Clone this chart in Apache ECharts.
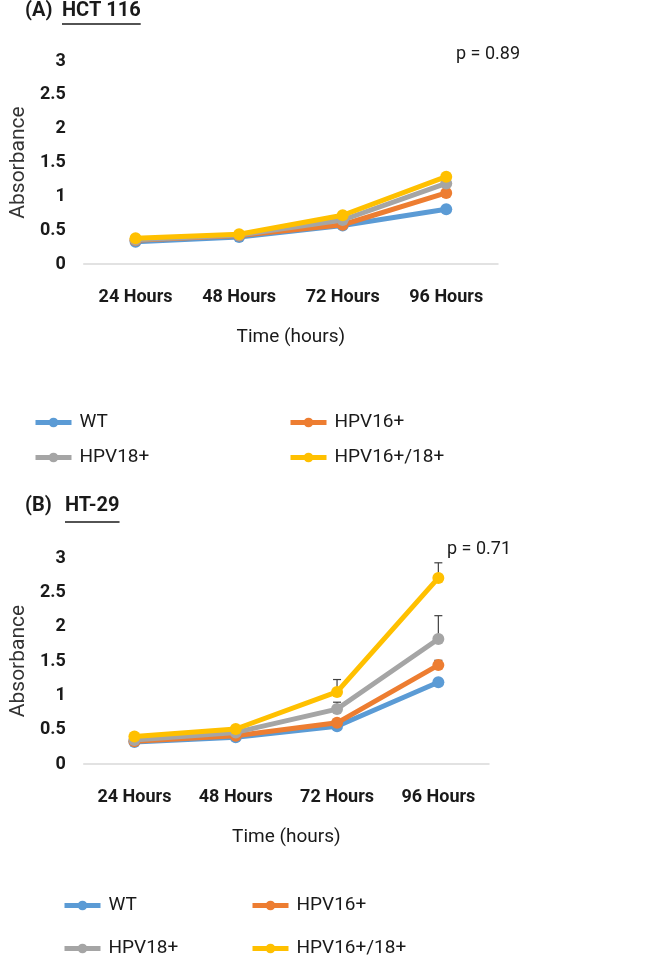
<!DOCTYPE html>
<html>
<head>
<meta charset="utf-8">
<script src="https://cdn.jsdelivr.net/npm/echarts@6/dist/echarts.min.js"></script>
<style>
html,body{margin:0;padding:0;background:#fff;}
#chart{width:669px;height:960px;}
</style>
</head>
<body>
<div id="chart"></div>
<script>
// ---- data ----
var categories = ['24 Hours', '48 Hours', '72 Hours', '96 Hours'];
var seriesNames = ['WT', 'HPV16+', 'HPV18+', 'HPV16+/18+'];
var yTicks = [0, 0.5, 1, 1.5, 2, 2.5, 3];

// Panel A: HCT 116
var hctWT = [0.33, 0.40, 0.57, 0.81];
var hctHPV16 = [0.35, 0.42, 0.58, 1.05];
var hctHPV18 = [0.36, 0.43, 0.65, 1.19];
var hctHPV1618 = [0.38, 0.44, 0.72, 1.29];

// Panel B: HT-29
var htWT = [0.32, 0.39, 0.55, 1.19];
var htHPV16 = [0.33, 0.41, 0.60, 1.44];
var htHPV18 = [0.35, 0.46, 0.80, 1.82];
var htHPV1618 = [0.40, 0.51, 1.05, 2.71];
// upper error (Panel B)
var htErrWT = [0, 0, 0.02, 0.04];
var htErrHPV16 = [0, 0, 0.02, 0.07];
var htErrHPV18 = [0, 0, 0.10, 0.34];
var htErrHPV1618 = [0, 0, 0.18, 0.22];

var pA = 'p = 0.89';
var pB = 'p = 0.71';
var titleA = ['(A)', 'HCT 116'];
var titleB = ['(B)', 'HT-29'];

// ---- styling ----
var colors = ['#5B9BD5', '#ED7D31', '#A5A5A5', '#FFC000'];
var FONT = 'Roboto, "Noto Sans", sans-serif';
var TXT = '#1a1a1a';

function textWidth(str, font) {
  var c = document.createElement('canvas').getContext('2d');
  c.font = font;
  return c.measureText(str).width;
}

var chart = echarts.init(document.getElementById('chart'));

var grids = [
  {left: 80, width: 418, top: 61, height: 203},
  {left: 73, width: 416, top: 558, height: 206}
];

function xAxisFor(i) {
  return {
    type: 'category', gridIndex: i, data: categories, boundaryGap: true,
    axisLine: {show: true, lineStyle: {color: '#d9d9d9', width: 1.5}},
    axisTick: {show: false},
    axisLabel: {fontFamily: FONT, fontSize: 18, fontWeight: 'bold', color: TXT, margin: 24},
    name: 'Time (hours)', nameLocation: 'middle', nameGap: 64,
    nameTextStyle: {fontFamily: FONT, fontSize: 19, color: TXT}
  };
}
function yAxisFor(i) {
  return {
    type: 'value', gridIndex: i, min: yTicks[0], max: yTicks[yTicks.length - 1], interval: 0.5,
    axisLine: {show: false}, axisTick: {show: false}, splitLine: {show: false},
    axisLabel: {fontFamily: FONT, fontSize: 18, fontWeight: 'bold', color: TXT, margin: 18},
    name: 'Absorbance', nameLocation: 'middle', nameGap: 52, nameRotate: 90,
    nameTextStyle: {fontFamily: FONT, fontSize: 21, color: '#333'}
  };
}

function lineSeries(name, data, gi, ci) {
  return {
    type: 'line', name: name, data: data, xAxisIndex: gi, yAxisIndex: gi,
    symbol: 'circle', symbolSize: 12, lineStyle: {width: 5, color: colors[ci]},
    itemStyle: {color: colors[ci]}, color: colors[ci], z: 2 + ci, animation: false
  };
}

function errSeries(vals, errs, gi) {
  var d = [];
  for (var k = 0; k < vals.length; k++) {
    if (errs[k] > 0) d.push([k, vals[k], vals[k] + errs[k]]);
  }
  return {
    type: 'custom', xAxisIndex: gi, yAxisIndex: gi, data: d, z: 1, animation: false,
    renderItem: function (params, api) {
      var p0 = api.coord([api.value(0), api.value(1)]);
      var p1 = api.coord([api.value(0), api.value(2)]);
      var st = {stroke: '#404040', lineWidth: 1.2};
      return {type: 'group', children: [
        {type: 'line', shape: {x1: p0[0], y1: p0[1], x2: p1[0], y2: p1[1]}, style: st},
        {type: 'line', shape: {x1: p1[0] - 4, y1: p1[1], x2: p1[0] + 4, y2: p1[1]}, style: st}
      ]};
    }
  };
}

var legendBase = {
  orient: 'horizontal', itemWidth: 36, itemHeight: 12,
  lineStyle: {width: 5},
  textStyle: {fontFamily: FONT, fontSize: 19, color: TXT, padding: [0, 0, 0, 3]},
  selectedMode: false
};
function leg(name, left, top) {
  return Object.assign({}, legendBase, {data: [name], left: left, top: top});
}

var tFont = 'bold 20px ' + FONT;
var wA = textWidth(titleA[1], tFont);
var wB = textWidth(titleB[1], tFont);

var option = {
  backgroundColor: '#fff',
  animation: false,
  grid: grids,
  xAxis: [xAxisFor(0), xAxisFor(1)],
  yAxis: [yAxisFor(0), yAxisFor(1)],
  legend: [
    leg('WT', 28, 408), leg('HPV16+', 283, 408),
    leg('HPV18+', 28, 443), leg('HPV16+/18+', 283, 443),
    leg('WT', 57, 891), leg('HPV16+', 245, 891),
    leg('HPV18+', 57, 934), leg('HPV16+/18+', 245, 934)
  ],
  series: [
    errSeries(htWT, htErrWT, 1),
    errSeries(htHPV16, htErrHPV16, 1),
    errSeries(htHPV18, htErrHPV18, 1),
    errSeries(htHPV1618, htErrHPV1618, 1),
    lineSeries(seriesNames[0], hctWT, 0, 0),
    lineSeries(seriesNames[1], hctHPV16, 0, 1),
    lineSeries(seriesNames[2], hctHPV18, 0, 2),
    lineSeries(seriesNames[3], hctHPV1618, 0, 3),
    lineSeries(seriesNames[0], htWT, 1, 0),
    lineSeries(seriesNames[1], htHPV16, 1, 1),
    lineSeries(seriesNames[2], htHPV18, 1, 2),
    lineSeries(seriesNames[3], htHPV1618, 1, 3)
  ],
  graphic: [
    {type: 'text', left: 25, top: 1, style: {text: titleA[0], font: tFont, fill: TXT}},
    {type: 'text', left: 62, top: 1, style: {text: titleA[1], font: tFont, fill: TXT}},
    {type: 'line', shape: {x1: 62, y1: 24, x2: 62 + wA, y2: 24}, style: {stroke: TXT, lineWidth: 1.5}},
    {type: 'text', left: 456, top: 45, style: {text: pA, font: '18px ' + FONT, fill: TXT}},
    {type: 'text', left: 25, top: 496, style: {text: titleB[0], font: tFont, fill: TXT}},
    {type: 'text', left: 65, top: 496, style: {text: titleB[1], font: tFont, fill: TXT}},
    {type: 'line', shape: {x1: 65, y1: 522, x2: 65 + wB, y2: 522}, style: {stroke: TXT, lineWidth: 1.5}},
    {type: 'text', left: 447, top: 540, style: {text: pB, font: '18px ' + FONT, fill: TXT}}
  ]
};
chart.setOption(option);
</script>
</body>
</html>
